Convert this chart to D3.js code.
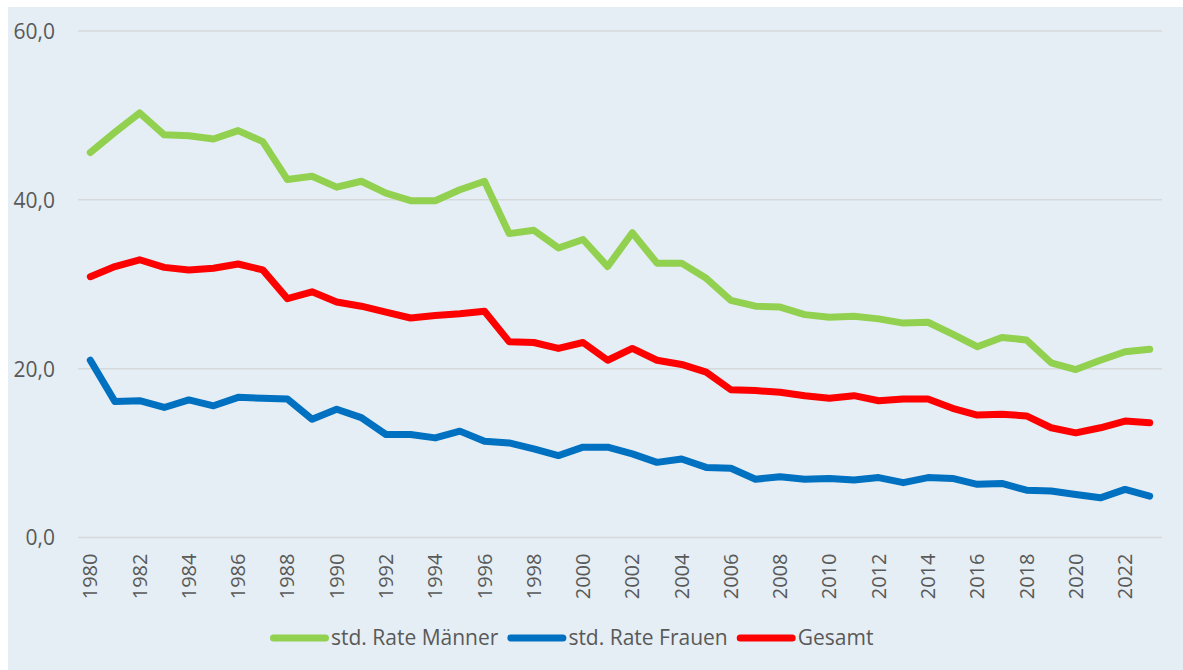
<!DOCTYPE html>
<html lang="de">
<head>
  <meta charset="UTF-8">
  <title>std. Rate</title>
  <script src="https://cdn.jsdelivr.net/npm/d3@7"></script>
  <style>
    body { margin: 0; background: #fff; }
    text { font-family: "Open Sans", sans-serif; fill: #595959; }
  </style>
</head>
<body>
  <script>
    const years = d3.range(1980, 2024)
    const yTicks = [0, 20, 40, 60]

    const maenner = [45.6, 48.0, 50.3, 47.7, 47.6, 47.2, 48.2, 46.9, 42.4, 42.8,
      41.5, 42.2, 40.8, 39.9, 39.9, 41.2, 42.2, 36.0, 36.4, 34.3,
      35.3, 32.1, 36.1, 32.5, 32.5, 30.7, 28.1, 27.4, 27.3, 26.4,
      26.1, 26.2, 25.9, 25.4, 25.5, 24.1, 22.6, 23.7, 23.4, 20.7,
      19.9, 21.0, 22.0, 22.3]
    const frauen = [21.0, 16.1, 16.2, 15.4, 16.3, 15.6, 16.6, 16.5, 16.4, 14.0,
      15.2, 14.2, 12.2, 12.2, 11.8, 12.6, 11.4, 11.2, 10.5, 9.7,
      10.7, 10.7, 9.9, 8.9, 9.3, 8.3, 8.2, 6.9, 7.2, 6.9,
      7.0, 6.8, 7.1, 6.5, 7.1, 7.0, 6.3, 6.4, 5.6, 5.5,
      5.1, 4.7, 5.7, 4.9]
    const gesamt = [30.9, 32.1, 32.9, 32.0, 31.7, 31.9, 32.4, 31.7, 28.3, 29.1,
      27.9, 27.4, 26.7, 26.0, 26.3, 26.5, 26.8, 23.2, 23.1, 22.4,
      23.1, 21.0, 22.4, 21.0, 20.5, 19.6, 17.5, 17.4, 17.2, 16.8,
      16.5, 16.8, 16.2, 16.4, 16.4, 15.3, 14.5, 14.6, 14.4, 13.0,
      12.4, 13.0, 13.8, 13.6]

    const series = [
      { name: 'std. Rate Männer', values: maenner, color: '#92d050' },
      { name: 'std. Rate Frauen', values: frauen, color: '#0070c0' },
      { name: 'Gesamt', values: gesamt, color: '#ff0000' }
    ]

    const svg = d3.select('body')
      .append('svg')
      .attr('width', 1183)
      .attr('height', 670)

    // Hintergrund
    svg.append('rect')
      .attr('x', 8).attr('y', 7)
      .attr('width', 1175).attr('height', 663)
      .attr('fill', '#e5eef4')

    const x = d3.scaleBand().domain(years).range([78, 1162])
    const y = d3.scaleLinear().domain([0, 60]).range([537.5, 31])
    const cx = d => x(d) + x.bandwidth() / 2

    // Gitterlinien
    svg.append('g')
      .selectAll('line')
      .data(yTicks)
      .join('line')
      .attr('x1', 78).attr('x2', 1162)
      .attr('y1', d => y(d)).attr('y2', d => y(d))
      .attr('stroke', '#d6d9db')
      .attr('stroke-width', 1.5)

    // y-Achse
    const yAxis = d3.axisLeft(y)
      .tickValues(yTicks)
      .tickSize(0)
      .tickPadding(0)
      .tickFormat(d => d3.format('.1f')(d).replace('.', ','))
    svg.append('g')
      .attr('transform', 'translate(55,0)')
      .call(yAxis)
      .call(g => g.select('.domain').remove())
      .selectAll('text')
      .attr('font-size', 21)
      .attr('font-family', null)
      .attr('dy', '0.35em')

    // x-Achse
    const xAxis = d3.axisBottom(x)
      .tickValues(years.filter(d => d % 2 === 0))
      .tickSize(0)
      .tickPadding(0)
    svg.append('g')
      .attr('transform', 'translate(0,537.5)')
      .call(xAxis)
      .call(g => g.select('.domain').remove())
      .selectAll('text')
      .attr('font-size', 20)
      .attr('font-family', null)
      .attr('text-anchor', 'end')
      .attr('transform', 'translate(0,16) rotate(-90)')
      .attr('x', 0).attr('y', 0)
      .attr('dy', '0.35em')

    // Linien
    const line = d3.line()
      .x((d, i) => cx(years[i]))
      .y(d => y(d))
    svg.append('g')
      .selectAll('path')
      .data(series)
      .join('path')
      .attr('d', d => line(d.values))
      .attr('fill', 'none')
      .attr('stroke', d => d.color)
      .attr('stroke-width', 7)
      .attr('stroke-linecap', 'round')
      .attr('stroke-linejoin', 'round')

    // Legende
    const legend = svg.append('g').attr('transform', 'translate(270,638)')
    let lx = 0
    series.forEach(s => {
      legend.append('line')
        .attr('x1', lx + 3.5).attr('x2', lx + 55.5)
        .attr('y1', 0).attr('y2', 0)
        .attr('stroke', s.color)
        .attr('stroke-width', 7)
        .attr('stroke-linecap', 'round')
      const t = legend.append('text')
        .attr('x', lx + 61)
        .attr('y', 0)
        .attr('dy', '0.35em')
        .attr('font-size', 21)
        .text(s.name)
      lx += 61 + t.node().getComputedTextLength() + 9
    })
  </script>
</body>
</html>
